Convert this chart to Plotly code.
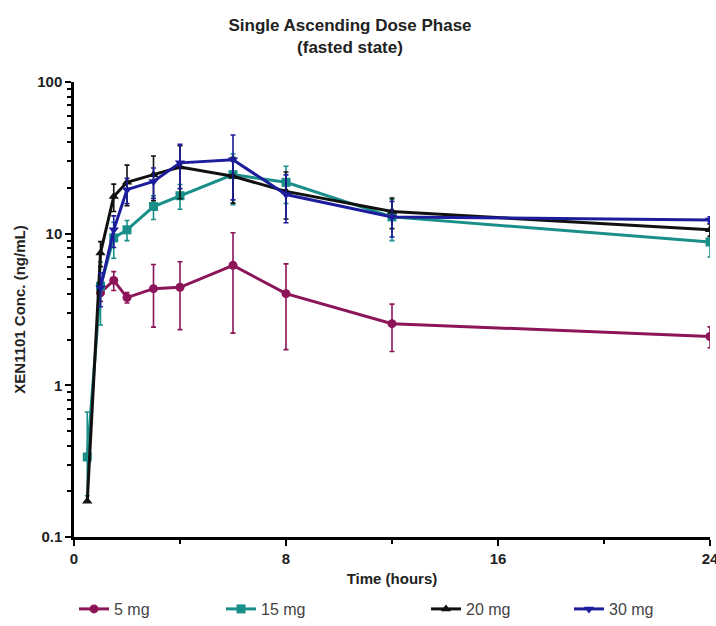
import plotly.graph_objects as go

# Data (hours, ng/mL)
t_5 = [1, 1.5, 2, 3, 4, 6, 8, 12, 24]
c_5 = [4.08, 4.92, 3.79, 4.34, 4.43, 6.18, 4.02, 2.55, 2.10]
sd_5 = [0.5, 0.7, 0.3, 1.92, 2.1, 3.97, 2.3, 0.88, 0.33]

t_15 = [0.5, 1, 1.5, 2, 3, 4, 6, 8, 12, 24]
c_15 = [0.337, 4.5, 9.38, 10.6, 15.1, 17.8, 24.5, 21.8, 12.9, 8.81]
sd_15_up = [0.33, 2.0, 2.5, 1.6, 2.7, 3.3, 9.0, 6.0, 3.9, 1.8]
sd_15_dn = [0.15, 2.0, 2.5, 1.6, 2.7, 3.3, 9.0, 6.0, 3.9, 1.8]

t_20 = [0.5, 1, 1.5, 2, 3, 4, 6, 8, 12, 24]
c_20 = [0.172, 7.46, 17.6, 21.8, 24.5, 27.5, 23.9, 19.0, 14.0, 10.6]
sd_20 = [0.0, 1.4, 3.6, 6.5, 8.0, 10.5, 8.0, 6.5, 3.2, 1.0]

t_30 = [1, 1.5, 2, 3, 4, 6, 8, 12, 24]
c_30 = [4.4, 10.6, 19.5, 22.1, 29.3, 30.7, 18.1, 12.9, 12.3]
sd_30 = [1.1, 2.5, 3.7, 5.0, 9.5, 14.0, 6.3, 3.4, 0.6]

names = ["5 mg", "15 mg", "20 mg", "30 mg"]
colors = ["#8c1559", "#1a8f89", "#111111", "#1c1c9c"]
symbols = ["circle", "square", "triangle-up", "triangle-down"]

x_ticks = [0, 8, 16, 24]
x_minor = [4, 12, 20]
y_ticks = [0.1, 1, 10, 100]
y_tick_text = ["0.1", "1", "10", "100"]

fig = go.Figure()

series = [
    (t_5, c_5, dict(type="data", array=sd_5, symmetric=True), "legend"),
    (t_15, c_15, dict(type="data", array=sd_15_up, arrayminus=sd_15_dn, symmetric=False), "legend"),
    (t_20, c_20, dict(type="data", array=sd_20, symmetric=True), "legend2"),
    (t_30, c_30, dict(type="data", array=sd_30, symmetric=True), "legend2"),
]

for i, (tx, cy, err, lg) in enumerate(series):
    err.update(color=colors[i], thickness=1.6, width=2.5)
    fig.add_trace(go.Scatter(
        x=tx, y=cy, name=names[i], mode="lines+markers",
        line=dict(color=colors[i], width=3),
        marker=dict(symbol=symbols[i], size=9, color=colors[i]),
        error_y=err, legend=lg,
    ))

minor_y = [m * 10 ** e for e in range(-1, 2) for m in range(2, 10)]

fig.update_layout(
    width=716, height=626,
    margin=dict(l=74, r=6, t=82, b=89),
    paper_bgcolor="white", plot_bgcolor="white",
    font=dict(family="Liberation Sans, Arial, sans-serif", color="#222"),
    title=dict(
        text="<b>Single Ascending Dose Phase<br>(fasted state)</b>",
        x=350 / 716, xanchor="center", xref="container",
        y=1 - 31 / 626, yanchor="middle", yref="container",
        font=dict(size=17, color="#222"),
    ),
    xaxis=dict(
        range=[0, 24], tickvals=x_ticks, ticktext=[str(v) for v in x_ticks],
        showgrid=False, zeroline=False, automargin=False,
        showline=True, linecolor="black", linewidth=2.5,
        ticks="outside", ticklen=6, tickwidth=2, tickcolor="black",
        tickfont=dict(size=15, color="#222", weight="bold"),
        ticklabeloverflow="allow",
        minor=dict(tickvals=x_minor, ticks="outside", ticklen=4, tickwidth=2, tickcolor="black"),
        title=dict(text="<b>Time (hours)</b>", font=dict(size=15, color="#222"), standoff=8),
    ),
    yaxis=dict(
        type="log", range=[-1, 2], tickvals=y_ticks, ticktext=y_tick_text,
        showgrid=False, zeroline=False, automargin=False,
        showline=True, linecolor="black", linewidth=2.5,
        ticks="outside", ticklen=6, tickwidth=2, tickcolor="black",
        tickfont=dict(size=15, color="#222", weight="bold"),
        ticklabeloverflow="allow",
        minor=dict(tickvals=minor_y, ticks="outside", ticklen=4, tickwidth=1.5, tickcolor="black"),
        title=dict(text="<b>XEN1101 Conc. (ng/mL)</b>", font=dict(size=15, color="#222"), standoff=8),
    ),
    legend=dict(
        orientation="h", xref="container", yref="container",
        x=74 / 716, y=1 - 609 / 626, xanchor="left", yanchor="middle",
        font=dict(size=16, color="#444"), entrywidth=102, bgcolor="rgba(0,0,0,0)",
    ),
    legend2=dict(
        orientation="h", xref="container", yref="container",
        x=426 / 716, y=1 - 609 / 626, xanchor="left", yanchor="middle",
        font=dict(size=16, color="#444"), entrywidth=98, bgcolor="rgba(0,0,0,0)",
    ),
    showlegend=True,
)

fig.write_html("out.html")
